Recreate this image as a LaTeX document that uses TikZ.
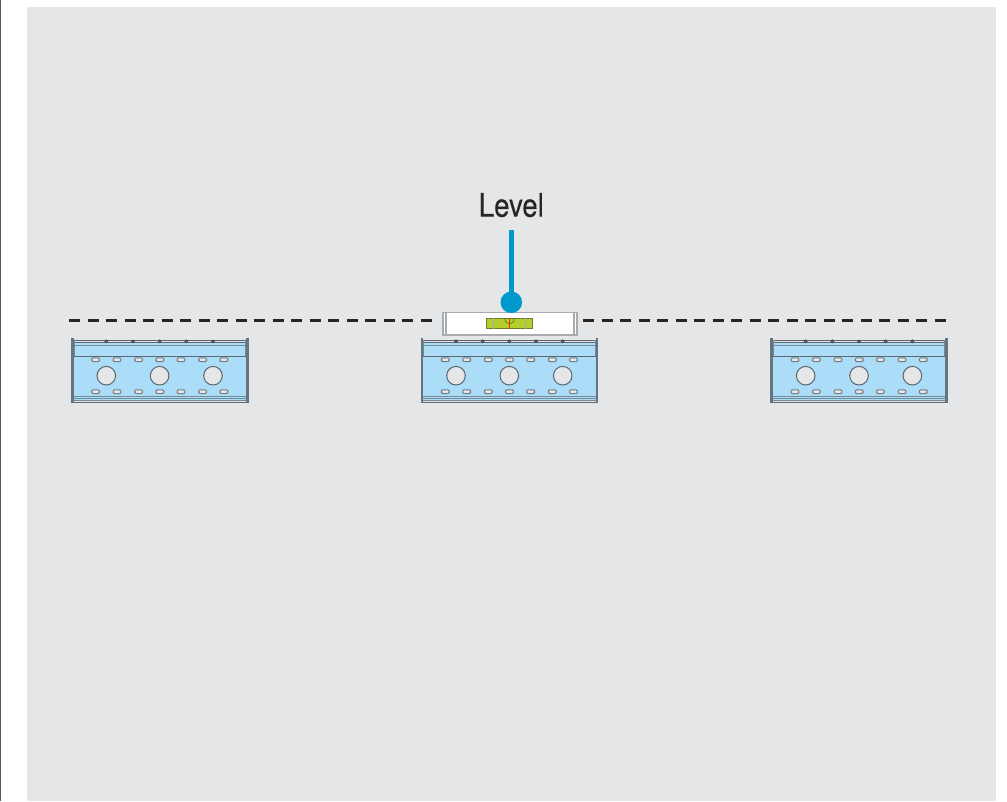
\documentclass[tikz,border=0pt]{standalone}
\usepackage{fontspec}
\setmainfont[FakeStretch=0.85,FakeBold=0.25]{TeX Gyre Heros}
\definecolor{panel}{HTML}{E5E6E8}
\definecolor{edge}{HTML}{5C666E}
\definecolor{post}{HTML}{66747F}
\definecolor{skyfill}{HTML}{ABDDF8}
\definecolor{callout}{HTML}{0099CC}
\definecolor{vial}{HTML}{B4CF2B}
\definecolor{vialedge}{HTML}{6F7D2B}
\definecolor{levelgrey}{HTML}{A9ACAE}
\definecolor{sideline}{HTML}{5A5A5A}
\tikzset{
  edgeline/.style={draw=edge,line width=1pt},
  softline/.style={draw=edge!70!skyfill,line width=0.9pt},
  slot/.style={draw=edge!85,fill=panel,line width=1.1pt,rounded corners=1.2pt},
  bighole/.style={draw=edge,fill=panel,line width=1pt},
  bump/.style={draw=edge!70!black,fill=edge!60,line width=0.9pt},
  levelline/.style={draw=levelgrey,line width=1.5pt},
  dashline/.style={draw=black!85,line width=3.1pt,dash pattern=on 11pt off 7.5pt},
  bracket/.pic={
    \fill[skyfill] (423,342) rectangle (596,401);
    \foreach \y in {340.3,342.3,356.3,402.7}
      \draw[edgeline] (423,\y) -- (596,\y);
    \foreach \y in {345.7,396.9,398.2,400.7}
      \draw[softline] (423,\y) -- (596,\y);
    \draw[softline] (423.8,340) -- (423.8,356);
    \draw[softline] (595.2,340) -- (595.2,356);
    \draw[post,line width=2.6pt] (422,338) -- (422,403);
    \draw[post,line width=2.6pt] (597,338) -- (597,403);
    \foreach \x in {456,482.7,509.3,536,562.7}
      \draw[bump] (\x,341.3) circle (1.4);
    \foreach \x in {445.3,466.7,488.3,509.5,530.7,552.3,573.5}{
      \draw[slot] (\x-3.9,357.9) rectangle (\x+3.9,361.6);
      \draw[slot] (\x-3.9,389.9) rectangle (\x+3.9,393.6);
    }
    \foreach \x in {456,509.3,562.7}
      \draw[bighole] (\x,375.7) circle (9.3);
  }
}
\begin{document}
\begin{tikzpicture}[x=1pt,y=-1pt]
  \useasboundingbox (0,0) rectangle (1007,801);
  \fill[white] (0,0) rectangle (1007,801);
  \fill[panel] (27,7) rectangle (996,801);
  \fill[sideline] (0,0) rectangle (1.2,801);

  \coordinate (dashLa) at (69,320.4);
  \coordinate (dashLb) at (432,320.4);
  \coordinate (dashRa) at (583,320.4);
  \coordinate (dashRb) at (946.5,320.4);
  \draw[dashline] (dashLa) -- (dashLb);
  \draw[dashline] (dashRa) -- (dashRb);

  \pic at (-349.7,0) {bracket};
  \pic at (0,0) {bracket};
  \pic at (349.7,0) {bracket};

  % spirit level
  \node[draw=levelgrey,fill=white,line width=1.6pt,outer sep=0pt,minimum width=134.2pt,minimum height=22.5pt,inner sep=0pt,anchor=north west] (levelbody) at (442.7,312.4) {};
  \draw[levelline] (445.8,312.4) -- (445.8,334.9);
  \draw[levelline] (574,312.4) -- (574,334.9);
  \node[draw=vialedge,fill=vial,line width=1pt,outer sep=0pt,minimum width=46pt,minimum height=10.5pt,inner sep=0pt,anchor=north west] (vialbody) at (486.3,318.4) {};
  \draw[levelgrey,line width=1pt] (493,318.4) -- (493,328.9);
  \draw[levelgrey,line width=1pt] (525,318.4) -- (525,328.9);
  \draw[vialedge,line width=.8pt] (504.5,318.4) arc[start angle=180,end angle=360,x radius=5,y radius=-5.5];
  \draw[red!70!orange,line width=.7pt] (509.5,318.4) -- (509.5,328.9);

  % callout
  \node[inner sep=0pt,anchor=base,font=\fontsize{32.5pt}{34pt}\selectfont,text=black!85] (label) at (511.3,216.7) {Level};
  \coordinate (stemtop) at (511.3,230);
  \node[circle,fill=callout,minimum size=21.6pt,inner sep=0pt] (ball) at (511.3,302.3) {};
  \draw[callout,line width=5.6pt] (stemtop) -- (ball.center);
\end{tikzpicture}
\end{document}
